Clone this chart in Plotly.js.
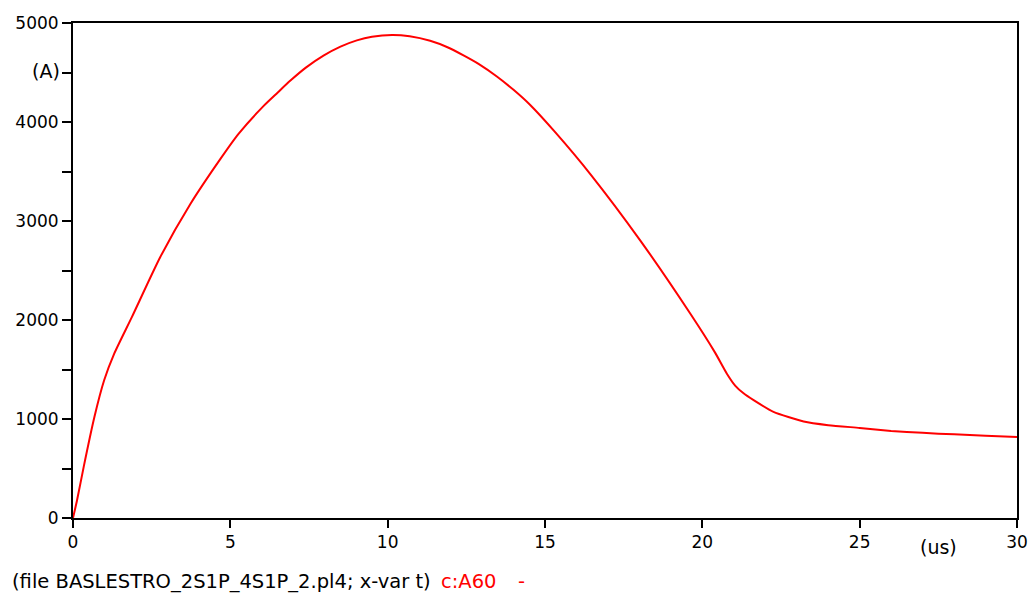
<!DOCTYPE html>
<html>
<head>
<meta charset="utf-8">
<script src="https://cdn.plot.ly/plotly-3.0.1.min.js"></script>
<style>html,body{margin:0;padding:0;background:#fff;}#chart{width:1032px;height:599px;}</style>
</head>
<body>
<div id="chart"></div>
<script>
const timeUs = [0, 0.13, 0.34, 0.68, 0.99, 1.31, 1.87, 2.77, 3.73, 4.68, 5.26, 6.06, 6.5, 6.91, 7.4, 7.96, 8.5, 9.02, 9.5, 10.14, 10.7, 11.35, 11.9, 12.41, 12.9, 13.47, 14.0, 14.53, 15.33, 16.44, 18.03, 19.62, 20.4, 20.78, 21.05, 21.3, 21.63, 22.26, 23.22, 24.0, 25.0, 26.0, 27.0, 28.0, 29.0, 30.0];
const currentA = [0, 181, 517, 1020, 1391, 1660, 2029, 2634, 3172, 3625, 3880, 4163, 4296, 4418, 4549, 4670, 4761, 4824, 4861, 4879, 4866, 4820, 4755, 4673, 4585, 4460, 4325, 4172, 3895, 3474, 2802, 2063, 1673, 1458, 1335, 1262, 1190, 1072, 975, 938, 910, 880, 860, 845, 831, 818];
const yTickVals = [0, 500, 1000, 1500, 2000, 2500, 3000, 3500, 4000, 4500, 5000];
const yTickText = ['0', '', '1000', '', '2000', '', '3000', '', '4000', '', '5000'];
const yUnit = '(A)';
const xTickVals = [0, 5, 10, 15, 20, 25, 30];
const xUnit = '(us)';
const footerText = '(file BASLESTRO_2S1P_4S1P_2.pl4; x-var t)';
const seriesName = 'c:A60';

const fam = 'DejaVu Sans, Verdana, sans-serif';
const font = {family: fam, size: 17, color: '#000'};
const unitFont = {family: fam, size: 19, color: '#000'};
const footFont = {family: fam, size: 19.5, color: '#000'};
const redFont = {family: fam, size: 19.5, color: '#ff0000'};

Plotly.newPlot('chart', [{
  x: timeUs, y: currentA, type: 'scatter', mode: 'lines', name: seriesName,
  line: {color: '#ff0000', width: 2, shape: 'spline', smoothing: 0.6}
}], {
  width: 1032, height: 599,
  margin: {l: 73, r: 15, t: 23, b: 81},
  paper_bgcolor: '#fff', plot_bgcolor: '#fff',
  showlegend: false,
  font: font,
  xaxis: {
    range: [0, 30], tickvals: xTickVals, ticktext: xTickVals.map(String),
    showgrid: false, zeroline: false, showline: true, mirror: true,
    linecolor: '#000', linewidth: 2, ticks: 'outside', ticklen: 8, tickwidth: 2, tickcolor: '#000',
    tickfont: font
  },
  yaxis: {
    range: [0, 5000], tickvals: yTickVals, ticktext: yTickText,
    showgrid: false, zeroline: false, showline: true, mirror: true,
    linecolor: '#000', linewidth: 2, ticks: 'outside', ticklen: 9, tickwidth: 2, tickcolor: '#000',
    tickfont: font
  },
  annotations: [
    {xref: 'x', yref: 'paper', x: 27.5, y: -0.058, text: xUnit, showarrow: false, xanchor: 'center', yanchor: 'middle', font: unitFont},
    {xref: 'paper', yref: 'y', x: -0.0115, y: 4500, yshift: 2, text: yUnit, showarrow: false, xanchor: 'right', yanchor: 'middle', font: unitFont},
    {xref: 'paper', yref: 'paper', x: -0.0664, y: -0.1287, text: footerText, showarrow: false, xanchor: 'left', yanchor: 'middle', font: footFont},
    {xref: 'paper', yref: 'paper', x: 0.388, y: -0.1287, text: seriesName, showarrow: false, xanchor: 'left', yanchor: 'middle', font: redFont},
    {xref: 'paper', yref: 'paper', x: 0.469, y: -0.1287, text: '-', showarrow: false, xanchor: 'left', yanchor: 'middle', font: redFont}
  ]
}, {displayModeBar: false, staticPlot: true});
</script>
</body>
</html>
